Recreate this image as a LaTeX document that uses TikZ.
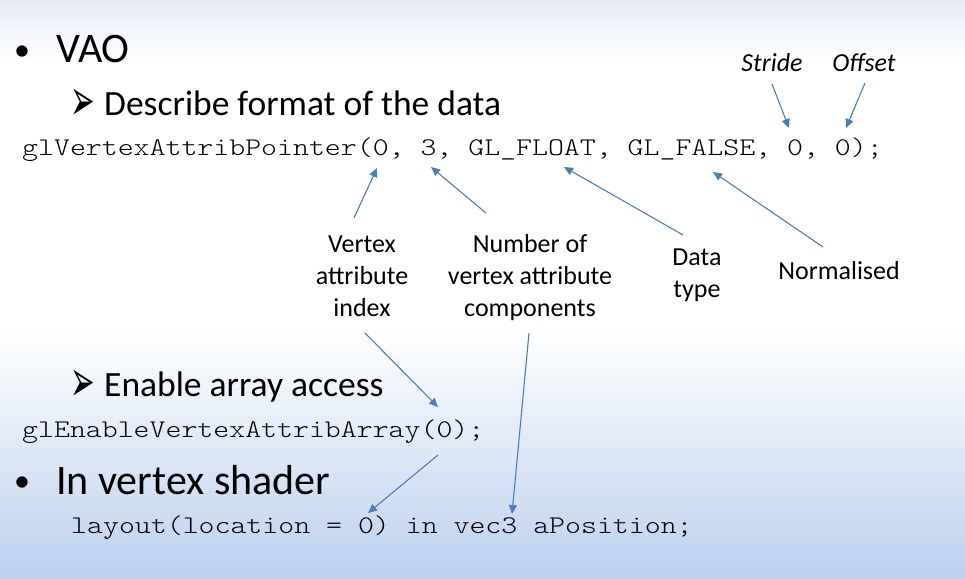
\documentclass[tikz,border=0pt]{standalone}
\usepackage{fontspec}
\setmainfont{Carlito}
\setmonofont{Latin Modern Mono Light}[FakeStretch=1.195]
\newfontfamily\symfont{DejaVu Sans}
\usetikzlibrary{arrows.meta,positioning}
\usepackage{xcolor}
\definecolor{aline}{HTML}{4A7EBB}
\definecolor{bgtop}{HTML}{E4EAF5}
\definecolor{bgbot}{HTML}{BCD0EE}
\tikzstyle{lvl1}=[font=\fontsize{42}{50}\selectfont, anchor=base west, inner sep=0]
\tikzstyle{lvl2}=[font=\fontsize{35.5}{42}\selectfont, anchor=base west, inner sep=0]
\tikzstyle{dot}=[font=\fontsize{32}{40}\selectfont, anchor=base, inner sep=0]
\tikzstyle{tri}=[font=\symfont\fontsize{28}{34}\selectfont, anchor=base west, inner sep=0]
\tikzstyle{code}=[font=\ttfamily\fontsize{25.4}{30}\selectfont, anchor=base west, inner sep=0]
\tikzstyle{lbl}=[font=\fontsize{26}{32}\selectfont, align=center, anchor=base, inner sep=0]
\tikzstyle{ar}=[line width=1.1, draw=aline, -{Triangle[length=9pt,width=8pt]}]
\newcommand{\tribullet}{\scalebox{1.05}[2.1]{➢}}

\begin{document}
\begin{tikzpicture}[x=1pt,y=-1pt]
    \useasboundingbox (0,0) rectangle (965,578);
    \fill[top color=bgtop, bottom color=white] (0,0) rectangle (965,60);
    \fill[top color=white, bottom color=bgbot] (0,330) rectangle (965,578);

    % slide text
    \node[dot] (b1) at (22,60) {•};
    \node[lvl1] (vao) at (56,63) {VAO};
    \node[tri] (a1) at (70,120) {\tribullet};
    \node[lvl2] (describe) at (104,115) {Describe format of the data};
    \node[code] (ptrcall) at (22,155) {glVertexAttribPointer(0, 3, GL\_FLOAT, GL\_FALSE, 0, 0);};
    \node[tri] (a2) at (70,401) {\tribullet};
    \node[lvl2] (enable) at (104,396) {Enable array access};
    \node[code] (enablecall) at (22,437) {glEnableVertexAttribArray(0);};
    \node[dot] (b2) at (22,491) {•};
    \node[lvl1] (shader) at (56,494) {In vertex shader};
    \node[code] (layoutline) at (71,533) {layout(location = 0) in vec3 aPosition;};

    % labels
    \node[lbl, font=\itshape\fontsize{26}{32}\selectfont] (stride) at (772,71) {Stride};
    \node[lbl, font=\itshape\fontsize{26}{32}\selectfont] (offset) at (864,71) {Offset};
    \node[lbl] (idx) at (362,316) {Vertex\\attribute\\index};
    \node[lbl] (ncomp) at (530,316) {Number of\\vertex attribute\\components};
    \node[lbl] (dtype) at (697,297) {Data\\type};
    \node[lbl] (norm) at (839,279) {Normalised};

    % arrow ends
    \coordinate (s1) at (772,84);  \coordinate (t1) at (789,128);
    \coordinate (s2) at (865,83);  \coordinate (t2) at (846,128);
    \coordinate (s3) at (354,218); \coordinate (t3) at (377,168);
    \coordinate (s4) at (486,213); \coordinate (t4) at (431,167);
    \coordinate (s5) at (683,235); \coordinate (t5) at (564,167);
    \coordinate (s6) at (823,247); \coordinate (t6) at (713,172);
    \coordinate (s7) at (365,333); \coordinate (t7) at (438,407);
    \coordinate (s8) at (529,333); \coordinate (t8) at (512,514);
    \coordinate (s9) at (438,455); \coordinate (t9) at (368,513);

    \draw[ar] (s1) -- (t1);
    \draw[ar] (s2) -- (t2);
    \draw[ar] (s3) -- (t3);
    \draw[ar] (s4) -- (t4);
    \draw[ar] (s5) -- (t5);
    \draw[ar] (s6) -- (t6);
    \draw[ar] (s7) -- (t7);
    \draw[ar] (s8) -- (t8);
    \draw[ar] (s9) -- (t9);
\end{tikzpicture}
\end{document}
